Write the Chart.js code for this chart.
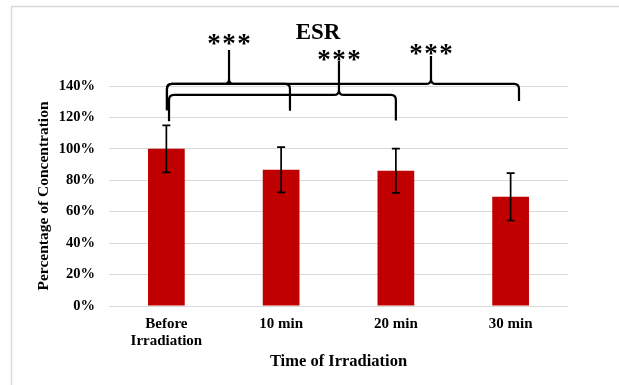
<!DOCTYPE html>
<html>
<head>
<meta charset="utf-8">
<script src="https://cdn.jsdelivr.net/npm/chart.js@4/dist/chart.umd.min.js"></script>
<style>
  html, body { margin: 0; padding: 0; background: #fff; }
  #wrap { width: 619px; height: 385px; }
</style>
</head>
<body>
<div id="wrap"><canvas id="myChart" width="619" height="385"></canvas></div>
<script>
const categories = [['Before', 'Irradiation'], '10 min', '20 min', '30 min'];
const values = [100, 86.7, 86.1, 69.5];
const errors = [15, 14.4, 14.1, 15.1];

// significance braces (x in category units, y in %)
const braceFrom = [0.005, 0.023, 0.005];
const braceTo = [1.077, 2.0, 3.073];
const bracePeakAt = [0.546, 1.504, 2.306];
const braceLevel = [141.3, 134.3, 141.3];
const braceTop = [162.9, 155.9, 159.1];
const braceFootLeft = [124.5, 117.5, 124.5];
const braceFootRight = [124.2, 118, 130.4];
const braceLabels = ['***', '***', '***'];
const braceLabelAt = [170.2, 159.7, 163.5];

const serif = '"Liberation Serif", "Times New Roman", serif';

const overlay = {
    id: 'overlay',
    beforeDraw(chart) {
        const ctx = chart.ctx;
        ctx.save();
        ctx.strokeStyle = '#d9d9d9';
        ctx.lineWidth = 1.5;
        ctx.strokeRect(11.5, 6.5, 700, 400);
        ctx.restore();
    },
    afterDatasetsDraw(chart) {
        const ctx = chart.ctx;
        const x = chart.scales.x, y = chart.scales.y;
        ctx.save();
        ctx.strokeStyle = '#000';
        ctx.lineWidth = 1.7;
        values.forEach((v, i) => {
            const px = x.getPixelForValue(i);
            const top = y.getPixelForValue(v + errors[i]);
            const bot = y.getPixelForValue(v - errors[i]);
            ctx.beginPath();
            ctx.moveTo(px, top); ctx.lineTo(px, bot);
            ctx.moveTo(px - 4, top); ctx.lineTo(px + 4, top);
            ctx.moveTo(px - 4, bot); ctx.lineTo(px + 4, bot);
            ctx.stroke();
        });

        // braces
        ctx.lineWidth = 2.2;
        ctx.lineJoin = 'round';
        const r = 5;
        braceFrom.forEach((f, i) => {
            const x1 = x.getPixelForValue(f);
            const x2 = x.getPixelForValue(braceTo[i]);
            const pk = x.getPixelForValue(bracePeakAt[i]);
            const lv = y.getPixelForValue(braceLevel[i]);
            const tp = y.getPixelForValue(braceTop[i]);
            ctx.beginPath();
            ctx.moveTo(x1, y.getPixelForValue(braceFootLeft[i]));
            ctx.lineTo(x1, lv + r);
            ctx.quadraticCurveTo(x1, lv, x1 + r, lv);
            ctx.lineTo(pk - r, lv);
            ctx.quadraticCurveTo(pk, lv, pk, lv - r);
            ctx.lineTo(pk, tp);
            ctx.moveTo(pk, lv - r);
            ctx.quadraticCurveTo(pk, lv, pk + r, lv);
            ctx.lineTo(x2 - r, lv);
            ctx.quadraticCurveTo(x2, lv, x2, lv + r);
            ctx.lineTo(x2, y.getPixelForValue(braceFootRight[i]));
            ctx.stroke();

            ctx.fillStyle = '#000';
            ctx.font = 'bold 27px ' + serif;
            ctx.textAlign = 'center';
            ctx.textBaseline = 'middle';
            const ly = y.getPixelForValue(braceLabelAt[i]) + 6;
            braceLabels[i].split('').forEach((ch, k) => {
                ctx.fillText(ch, pk + (k - 1) * 15, ly);
            });
        });

        ctx.font = 'bold 23px ' + serif;
        ctx.textAlign = 'center';
        ctx.textBaseline = 'middle';
        ctx.fillText('ESR', 318, 33);
        ctx.restore();
    }
};

const data = {
    labels: categories,
    datasets: [{
        label: 'ESR',
        backgroundColor: '#c00000',
        borderWidth: 0,
        barPercentage: 0.32,
        categoryPercentage: 1,
        data: values,
    }]
};

const config = {
    type: 'bar',
    data: data,
    options: {
        responsive: false,
        animation: false,
        layout: { padding: { top: 86, right: 51, left: 0, bottom: 0 } },
        plugins: {
            legend: { display: false },
            tooltip: { enabled: false },
        },
        scales: {
            x: {
                grid: { display: false, drawTicks: false },
                border: { display: false },
                ticks: {
                    color: '#000',
                    padding: 10,
                    maxRotation: 0,
                    font: { family: serif, size: 15, weight: 'bold', lineHeight: 1.13 },
                },
                title: {
                    display: true,
                    text: 'Time of Irradiation',
                    color: '#000',
                    padding: { top: 0, bottom: 13 },
                    font: { family: serif, size: 16.5, weight: 'bold' },
                },
                afterFit: s => { s.height = 79; },
            },
            y: {
                min: 0,
                max: 140,
                grid: { color: '#d9d9d9', lineWidth: 1, drawTicks: false },
                border: { display: false },
                ticks: {
                    stepSize: 20,
                    color: '#000',
                    padding: 14,
                    font: { family: serif, size: 14.5, weight: 'bold' },
                    callback: v => v + '%',
                },
                title: {
                    display: true,
                    text: 'Percentage of Concentration',
                    color: '#000',
                    padding: { top: 35, bottom: 0 },
                    font: { family: serif, size: 15.5, weight: 'bold' },
                },
                afterFit: s => { s.width = 109; },
            }
        }
    },
    plugins: [overlay]
};

new Chart(document.getElementById('myChart'), config);
</script>
</body>
</html>
